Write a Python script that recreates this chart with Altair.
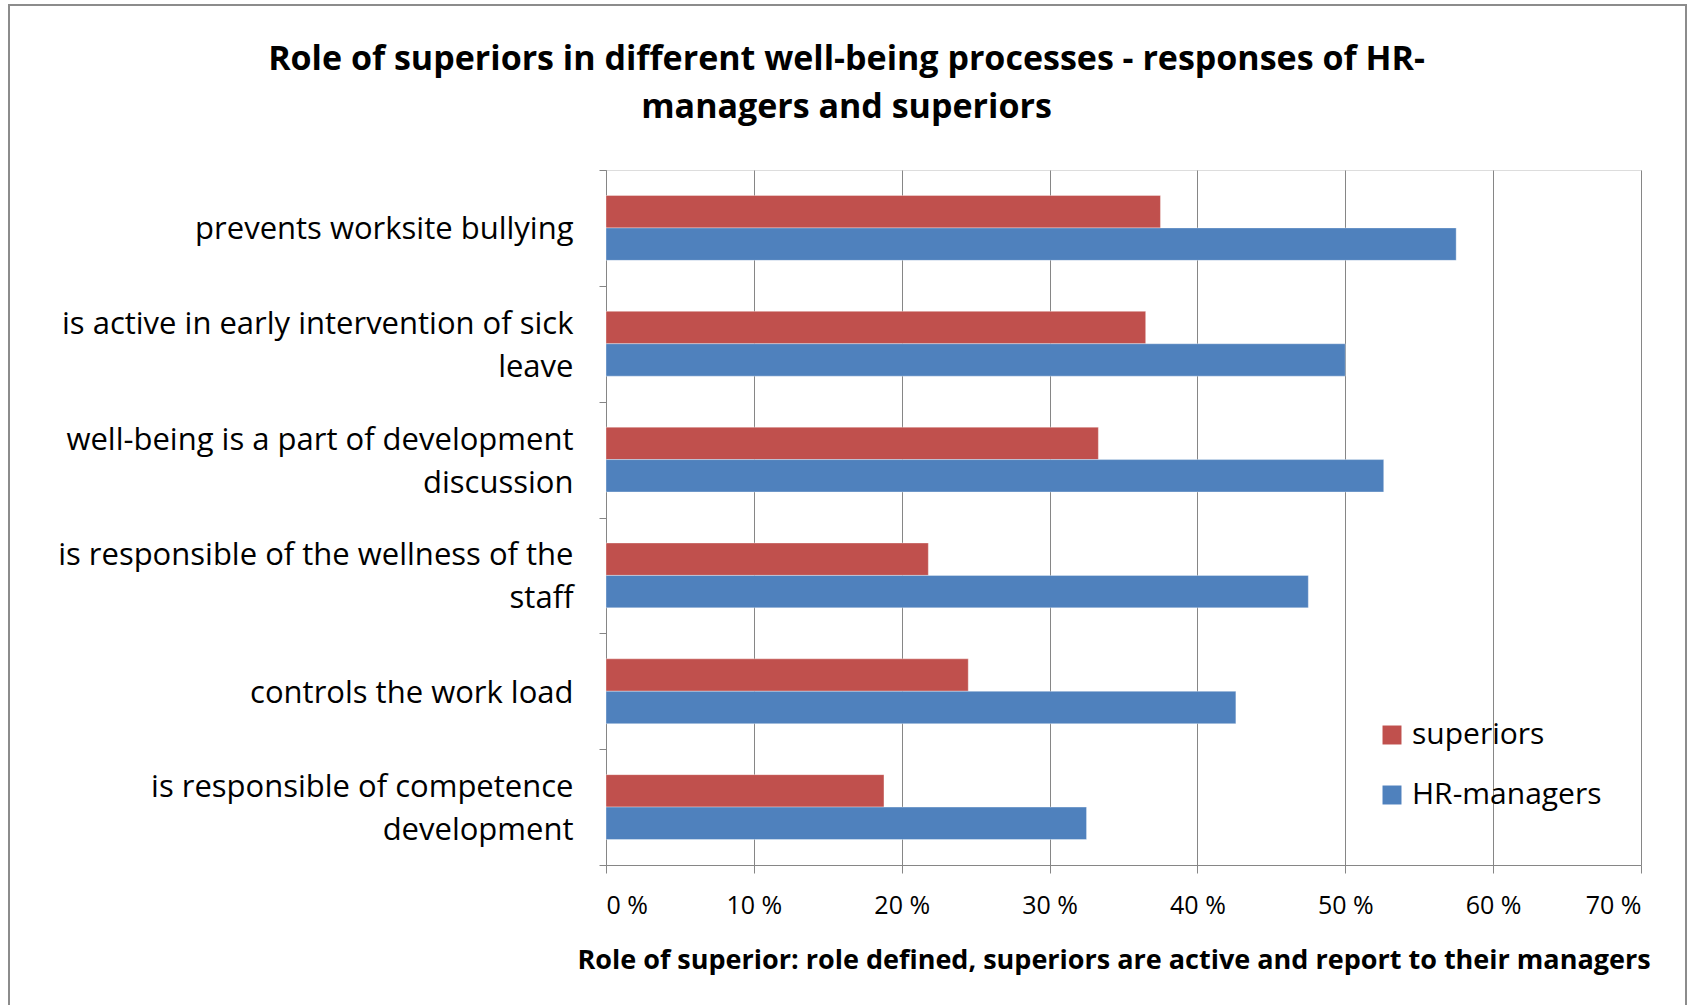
import altair as alt
import pandas as pd

categories = [
    "prevents worksite bullying",
    "is active in early intervention of sick leave",
    "well-being is a part of development discussion",
    "is responsible of the wellness of the staff",
    "controls the work load",
    "is responsible of competence development",
]
label_lines = [
    ["prevents worksite bullying"],
    ["is active in early intervention of sick", "leave"],
    ["well-being is a part of development", "discussion"],
    ["is responsible of the wellness of the", "staff"],
    ["controls the work load"],
    ["is responsible of competence", "development"],
]
series = ["superiors", "HR-managers"]
superiors = [37.5, 36.5, 33.3, 21.8, 24.5, 18.8]
hr_managers = [57.5, 50.0, 52.6, 47.5, 42.6, 32.5]
colors = ["#C0504D", "#4F81BD"]
x_ticks = [0, 10, 20, 30, 40, 50, 60, 70]

rows = []
for i, c in enumerate(categories):
    rows.append({"category": c, "series": series[0], "value": superiors[i]})
    rows.append({"category": c, "series": series[1], "value": hr_managers[i]})
df = pd.DataFrame(rows)

label_map = "{" + ", ".join(
    '"%s": %s' % (c, "[" + ", ".join('"%s"' % l for l in lines) + "]")
    for c, lines in zip(categories, label_lines)
) + "}"
single_line = [c for c, lines in zip(categories, label_lines) if len(lines) == 1]
single_test = " || ".join("datum.value == '%s'" % c for c in single_line)

FONT = "Open Sans"
W, H = 1035, 695
LINE_H = 43

bars = alt.Chart(df).mark_bar(stroke="#ffffff", strokeOpacity=0.35, strokeWidth=1).encode(
    y=alt.Y(
        "category:N",
        sort=categories,
        scale=alt.Scale(paddingInner=0, paddingOuter=0),
        axis=alt.Axis(
            title=None,
            labelExpr=label_map + "[datum.value]",
            labelAlign="right",
            labelFontSize=31,
            labelFont=FONT,
            labelColor="#000000",
            labelLineHeight=LINE_H,
            labelPadding=26,
            labelLimit=700,
            labelOffset={"condition": {"test": single_test, "value": 2}, "value": 2 - LINE_H / 2},
            tickBand="extent",
            tickSize=7,
            tickColor="#868686",
            domainColor="#868686",
            grid=False,
        ),
    ),
    yOffset=alt.YOffset(
        "series:N",
        sort=series,
        scale=alt.Scale(paddingInner=0, paddingOuter=0.786),
    ),
    x=alt.X(
        "value:Q",
        scale=alt.Scale(domain=[0, 70], nice=False),
        axis=alt.Axis(
            values=x_ticks,
            labelExpr="datum.value + ' %'",
            labelFontSize=25,
            labelFont=FONT,
            labelColor="#000000",
            labelPadding=20,
            tickSize=8,
            tickColor="#868686",
            domainColor="#868686",
            gridColor="#868686",
            gridWidth=1,
            title="Role of superior: role defined, superiors are active and report to their managers",
            titleFont=FONT,
            titleFontSize=27,
            titleFontWeight="bold",
            titleColor="#000000",
            titlePadding=29,
            titleX=W / 2 - 10,
        ),
    ),
    color=alt.Color(
        "series:N",
        sort=series,
        scale=alt.Scale(domain=series, range=colors),
        legend=alt.Legend(
            title=None,
            orient="none",
            legendX=771,
            legendY=550,
            symbolType="square",
            symbolSize=360,
            symbolStrokeWidth=0,
            labelFont=FONT,
            labelFontSize=30,
            labelColor="#000000",
            labelLimit=400,
            rowPadding=30,
            labelOffset=5,
        ),
    ),
)

frame = alt.Chart(alt.Data(values=[{"a": 1}])).mark_rect(
    fill=None, stroke="#8c8c8c", strokeWidth=2, clip=False
).encode(
    x=alt.value(-597),
    x2=alt.value(W + 45),
    y=alt.value(-165),
    y2=alt.value(H + 400),
)

chart = alt.layer(frame, bars).properties(
    width=W,
    height=H,
    autosize=alt.AutoSizeParams(type="none"),
    padding={"left": 606, "top": 170, "right": 51, "bottom": 140},
    title=alt.TitleParams(
        text=[
            "Role of superiors in different well-being processes - responses of HR-",
            "managers and superiors",
        ],
        anchor="middle",
        dx=-277,
        dy=121,
        offset=0,
        font=FONT,
        fontSize=34,
        fontWeight="bold",
        color="#000000",
        lineHeight=48,
    ),
).configure_view(stroke=None).configure(background="#ffffff")

chart.save("out.html", embed_options={"renderer": "svg", "actions": False})
